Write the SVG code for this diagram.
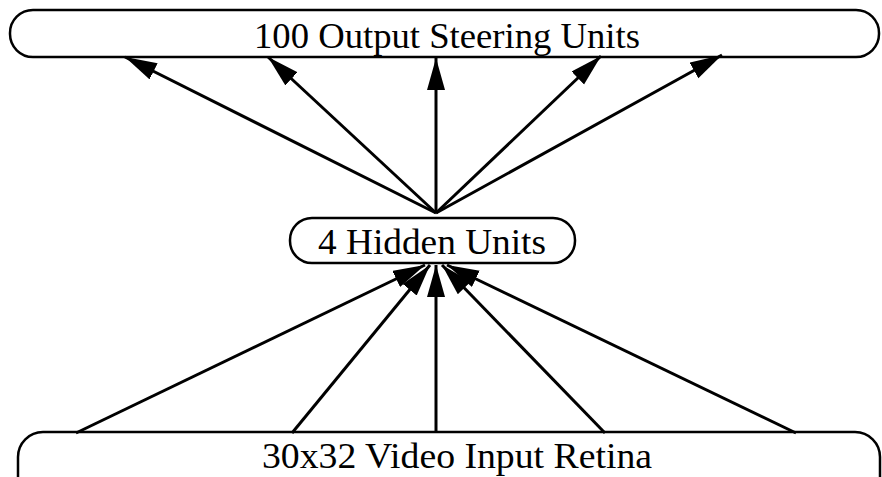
<svg xmlns="http://www.w3.org/2000/svg" width="882" height="477" viewBox="0 0 882 477">
<style>
.box{fill:#fff;stroke:#000;stroke-width:2.5}
.lbl{font-family:'Liberation Serif','Times New Roman',serif;font-size:36px;fill:#000;text-anchor:middle}
.c line{stroke:#000;stroke-width:3}
</style>
<defs>
<marker id="ah" markerUnits="userSpaceOnUse" markerWidth="34" markerHeight="20" refX="32" refY="9" orient="auto">
<path d="M0,0 L32,9 L0,18 Z" fill="#000"/>
</marker>
</defs>
<rect width="882" height="477" fill="#fff"/>
<g id="output">
<rect class="box" x="10" y="10" width="869" height="47" rx="23" ry="23"/>
<text class="lbl" x="447" y="48" textLength="386" lengthAdjust="spacingAndGlyphs">100 Output Steering Units</text>
</g>
<g id="hidden">
<rect class="box" x="290" y="218" width="285" height="45" rx="22" ry="22"/>
<text class="lbl" x="432" y="254" style="font-size:35px" textLength="228" lengthAdjust="spacingAndGlyphs">4 Hidden Units</text>
</g>
<g id="input">
<rect class="box" x="18" y="432" width="862" height="80" rx="25" ry="25"/>
<text class="lbl" x="457" y="468" style="font-size:35px" textLength="390" lengthAdjust="spacingAndGlyphs">30x32 Video Input Retina</text>
</g>
<g class="c" id="connectors">
<line x1="436" y1="213" x2="125" y2="57" marker-end="url(#ah)"/>
<line x1="436" y1="213" x2="268" y2="57" marker-end="url(#ah)"/>
<line x1="436" y1="213" x2="436" y2="58" marker-end="url(#ah)"/>
<line x1="436" y1="213" x2="601" y2="56" marker-end="url(#ah)"/>
<line x1="436" y1="213" x2="722" y2="55" marker-end="url(#ah)"/>
<line x1="76" y1="433" x2="425" y2="265" marker-end="url(#ah)"/>
<line x1="292" y1="433" x2="430" y2="265" marker-end="url(#ah)"/>
<line x1="436" y1="433" x2="436" y2="265" marker-end="url(#ah)"/>
<line x1="605" y1="433" x2="442" y2="265" marker-end="url(#ah)"/>
<line x1="796" y1="433" x2="447" y2="265" marker-end="url(#ah)"/>
</g>
</svg>
